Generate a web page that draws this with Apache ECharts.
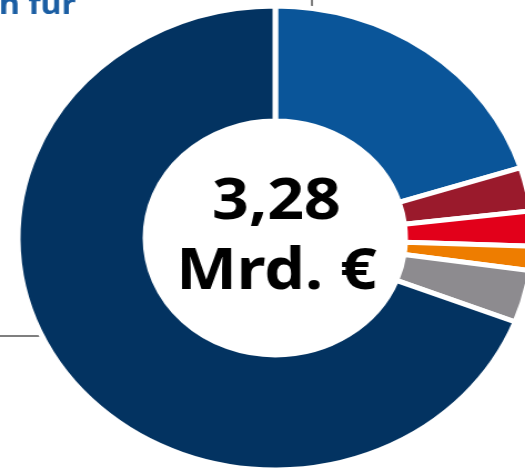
<!DOCTYPE html>
<html>
<head>
<meta charset="utf-8">
<script src="https://cdn.jsdelivr.net/npm/echarts@6/dist/echarts.min.js"></script>
<style>
  html, body { margin: 0; padding: 0; background: #fff; overflow: hidden; }
  #DataChart { width: 473px; height: 473px; transform: scaleX(1.11); transform-origin: 0 0; }
</style>
</head>
<body>
<div id="DataChart"></div>
<script>
// Daten (Mrd. €), Reihenfolge im Uhrzeigersinn ab 12 Uhr
var segmentNames = ['Segment 1', 'Segment 2', 'Segment 3', 'Segment 4', 'Segment 5', 'Segment 6'];
var segmentValues = [0.66, 0.10, 0.08, 0.055, 0.12, 2.27];
var segmentColors = ['#0a5599', '#9a1a2c', '#e2001a', '#ee7d00', '#8d8b8f', '#033361'];
var centerLines = ['3,28', 'Mrd. €'];

var myChart = echarts.init(document.getElementById('DataChart'));

var pieData = segmentNames.map(function (n, i) {
    return { name: n, value: segmentValues[i], itemStyle: { color: segmentColors[i] } };
});

var option = {
    animation: false,
    graphic: [
        {
            type: 'text', left: -1, top: -9, z: 10,
            style: { text: 'n für', fill: '#1b5ea3', font: 'bold 29px "Noto Sans"' }
        },
        {
            type: 'line', z: 0,
            shape: { x1: 281, y1: 0, x2: 281, y2: 9 },
            style: { stroke: '#555', lineWidth: 1.5 }
        },
        {
            type: 'line', z: 0,
            shape: { x1: 0, y1: 336, x2: 40, y2: 336 },
            style: { stroke: '#555', lineWidth: 1.5 }
        },
        {
            type: 'text', x: 249, y: 173, z: 10,
            style: { text: centerLines[0], fill: '#000', font: 'bold 58px "Noto Sans"', align: 'center', verticalAlign: 'top' }
        },
        {
            type: 'text', x: 249, y: 243, z: 10,
            style: { text: centerLines[1], fill: '#000', font: 'bold 58px "Noto Sans"', align: 'center', verticalAlign: 'top' }
        }
    ],
    series: [
        {
            type: 'pie',
            silent: true,
            center: [248, 238],
            radius: [117, 232],
            startAngle: 90,
            clockwise: true,
            label: { show: false },
            labelLine: { show: false },
            itemStyle: { borderColor: '#fff', borderWidth: 5 },
            data: pieData
        }
    ]
};

myChart.setOption(option);
</script>
</body>
</html>
